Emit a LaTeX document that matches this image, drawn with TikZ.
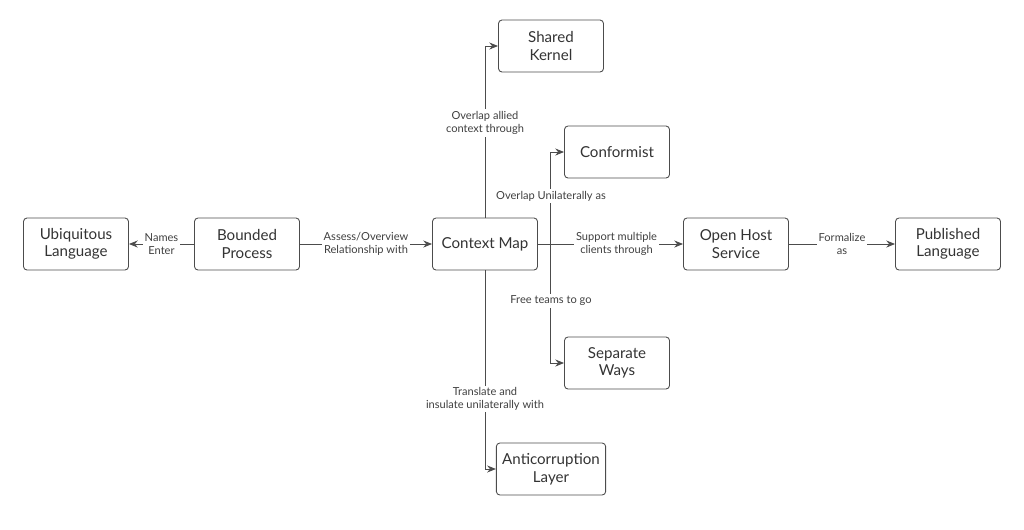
\documentclass[tikz,border=0pt]{standalone}
\usepackage{fontspec}
\setmainfont{Lato}
\usetikzlibrary{arrows.meta,calc}
\tikzset{
  block/.style = {rectangle, draw=black!70, rounded corners=2pt, line width=0.5pt,
                  minimum width=105\pxu, minimum height=52\pxu, align=center,
                  font=\fontsize{8.6}{10}\selectfont, text=black!80},
  line/.style  = {draw=black!70, line width=0.5pt, -{Stealth[length=5pt,width=4pt]}},
  lbl/.style   = {fill=white, align=center, inner sep=1pt,
                  font=\fontsize{6.3}{7.6}\selectfont, text=black!75}
}
\newlength{\pxu}\setlength{\pxu}{0.02cm}
\begin{document}
\begin{tikzpicture}[x=0.02cm,y=-0.02cm]
	\useasboundingbox (0,0) rectangle (1024,529);
	% Place nodes
	\node [block] (ubiq) at (76,244) {Ubiquitous\\Language};
	\node [block] (bounded) at (247,244) {Bounded\\Process};
	\node [block] (ctxmap) at (485,244) {Context Map};
	\node [block] (kernel) at (551,46) {Shared\\Kernel};
	\node [block] (conform) at (617,152) {Conformist};
	\node [block] (openhost) at (736,244) {Open Host\\Service};
	\node [block] (published) at (948,244) {Published\\Language};
	\node [block] (separate) at (617,363) {Separate\\Ways};
	\node [block] (anticorr) at (551,469) {Anticorruption\\Layer};
	\coordinate (hub) at (550,244);
	% Draw edges
	\path [line] (bounded) -- node [lbl] {Names\\Enter} (ubiq);
	\path [line] (bounded) -- node [lbl] {Assess/Overview\\Relationship with} (ctxmap);
	\path [line] (ctxmap.north) |- (kernel.west);
	\node [lbl] (kernelLbl) at (485,123) {Overlap allied\\context through};
	\path [line] (ctxmap.south) |- (anticorr.west);
	\node [lbl] (anticorrLbl) at (485,399) {Translate and\\insulate unilaterally with};
	\draw [draw=black!70, line width=0.5pt] (ctxmap.east) -- (hub);
	\path [line] (hub) |- (conform.west);
	\path [line] (hub) |- (separate.west);
	\node [lbl] (conformLbl) at (551,196) {Overlap Unilaterally as};
	\node [lbl] (separateLbl) at (551,301) {Free teams to go};
	\path [line] (hub) -- node [lbl] {Support multiple\\clients through} (openhost);
	\path [line] (openhost) -- node [lbl] {Formalize\\as} (published);
\end{tikzpicture}
\end{document}
